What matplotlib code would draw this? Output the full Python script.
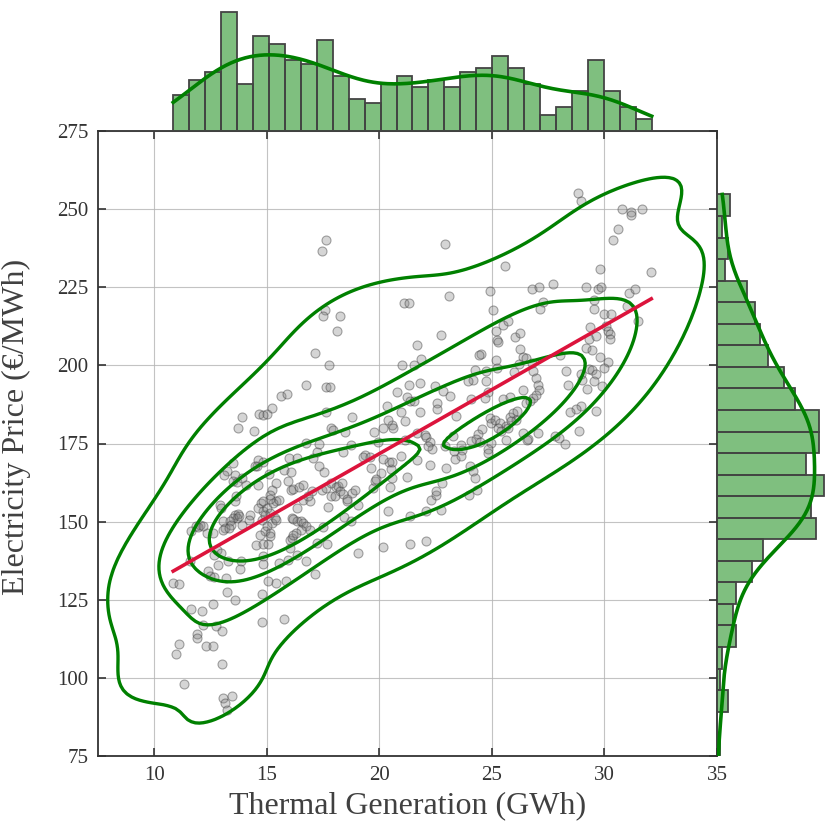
import numpy as np
import matplotlib
matplotlib.use("Agg")
import matplotlib.pyplot as plt
import seaborn as sns

plt.rcParams['font.family'] = ['Liberation Serif', 'DejaVu Serif']

# scatter points (thermal generation GWh, price EUR/MWh)
gen = [
    10.84, 11.11, 11.11, 10.96, 11.33, 11.63, 12.10, 12.62, 12.15, 12.74, 13.02, 11.91, 11.92, 12.29, 12.62,
    13.02, 13.06, 13.44, 13.14, 13.21, 13.24, 13.58, 11.58, 12.77, 12.66, 12.96, 12.84, 12.40, 12.65, 12.47,
    13.18, 13.29, 13.84, 13.80, 14.81, 15.54, 14.81, 15.06, 15.39, 15.85, 14.77, 14.79, 15.77, 16.76, 17.16,
    16.32, 16.02, 16.02, 16.10, 14.54, 14.84, 15.06, 17.24, 17.68, 17.50, 15.95,
    11.62, 11.85, 12.03, 12.33, 11.95, 12.17, 12.62, 12.92, 12.96, 13.58, 13.63, 13.06, 13.14, 13.06, 13.58,
    13.73, 13.66, 13.51, 13.36, 13.43, 13.33, 13.77, 14.25, 14.22, 13.88, 14.72, 14.84, 14.84, 14.77, 14.62,
    14.99, 14.91, 15.13, 15.21, 14.99, 14.91, 15.13, 14.69, 15.13, 15.36, 15.43, 15.21, 15.13, 15.43, 15.28,
    15.13, 15.54, 16.10, 16.32, 16.54, 16.61, 16.76, 16.91, 16.50, 16.17, 16.28, 16.17, 16.32, 16.61, 16.94,
    16.84, 16.08, 16.17, 16.44, 16.61,
    13.51, 14.57, 13.21, 13.09, 14.62, 13.58, 13.51, 13.66, 13.88, 14.06, 14.62, 15.43, 15.10, 15.77, 16.07,
    15.92, 14.47, 14.84, 15.98, 16.32, 17.06, 17.32, 17.53, 17.01, 17.43, 17.65, 17.83, 18.06, 18.17, 18.27,
    18.36, 17.87, 18.05, 18.54, 18.79, 18.91, 19.05, 19.80, 19.72, 20.09, 20.51, 20.54, 20.42, 18.39, 18.57,
    17.72, 18.43, 18.76, 20.39, 19.05, 20.16,
    13.70, 13.88, 14.44, 14.66, 14.84, 14.99, 15.21, 15.65, 15.88, 16.72, 17.61, 17.81, 17.12, 17.75, 17.65,
    18.77, 17.86, 17.95, 18.48, 19.76, 20.16, 20.56, 20.61, 20.39, 20.80, 21.23, 20.95, 21.13, 21.16, 19.94,
    18.76, 16.73, 17.32, 17.25, 18.39, 19.38, 19.28, 19.58, 20.98, 20.16, 20.56, 21.23, 17.61, 17.47, 21.10,
    21.32, 17.58, 17.50, 18.23, 18.12, 21.66, 21.02, 21.54, 21.85, 21.30, 21.82, 21.35, 21.54, 20.34, 22.56,
    22.56, 21.79, 21.67, 22.02, 22.09, 22.24, 22.34, 22.16, 21.65, 22.24, 19.65, 19.84, 20.49, 21.38, 22.09,
    22.31, 22.53, 22.53, 21.35, 22.09, 22.73,
    22.76, 25.20, 25.22, 25.27, 25.49, 25.71, 26.01, 26.23, 26.23, 26.38, 24.50, 24.41, 25.17, 25.24, 24.75,
    24.23, 25.97, 26.20, 26.53, 26.78, 26.82, 26.97, 27.05, 27.09, 26.97, 26.82, 28.30, 28.38, 24.16, 23.94,
    24.75, 22.46, 22.83, 23.16, 24.83, 24.69, 24.09, 25.49, 25.79, 26.38, 26.50, 26.70, 23.40, 24.90, 24.97,
    25.12, 25.34, 25.27, 25.64, 25.79, 25.94, 26.12, 26.09, 25.87, 25.72, 25.42, 26.38, 26.60, 27.05, 27.79,
    27.98, 28.23, 24.56, 24.38, 24.28, 24.09, 24.46, 24.97, 24.83, 24.83, 23.27, 23.64, 23.69, 23.35, 23.64,
    22.90, 22.98, 24.01, 24.16, 24.23, 22.80, 24.34, 23.98, 25.64, 26.57, 23.31,
    28.82, 28.97, 30.79, 31.16, 31.19, 31.66, 30.60, 30.39, 29.78, 32.08, 27.71, 29.16, 29.71, 29.86, 31.11,
    31.37, 29.53, 29.53, 31.01, 29.96, 30.30, 29.34, 30.08, 30.15, 30.23, 30.26, 29.31, 29.63, 31.51, 29.19,
    29.46, 28.01, 29.82, 30.15, 29.96, 29.31, 29.46, 29.61, 28.97, 29.01, 29.53, 29.24, 29.89, 28.97, 28.72,
    28.45, 29.63, 28.85, 22.90, 23.09, 25.57, 24.90, 25.05, 26.80, 27.09, 27.27, 27.12,
]
price = [
    130.4, 130.1, 110.9, 107.8, 98.1, 122.2, 121.5, 123.8, 117.0, 116.5, 114.9, 114.2, 112.8, 110.1, 110.1,
    104.6, 93.6, 94.1, 92.0, 89.8, 127.5, 125.0, 137.3, 141.0, 139.4, 140.0, 136.2, 134.1, 132.2, 132.5,
    132.0, 137.5, 137.5, 134.9, 136.5, 136.8, 138.9, 131.1, 130.4, 131.1, 126.9, 117.8, 118.9, 137.5, 133.4,
    139.4, 141.6, 144.2, 144.8, 142.6, 143.0, 142.9, 143.2, 143.0, 148.2, 137.8,
    146.9, 148.7, 149.0, 146.4, 148.2, 148.5, 146.4, 155.4, 154.4, 156.5, 158.1, 150.1, 148.0, 147.4, 152.2,
    152.5, 151.1, 151.1, 150.1, 149.0, 147.9, 151.7, 152.2, 150.6, 149.0, 156.0, 156.5, 153.3, 150.6, 154.4,
    154.4, 152.2, 152.8, 149.6, 148.5, 146.9, 146.4, 145.8, 145.3, 151.2, 150.6, 160.2, 158.6, 156.5, 156.0,
    157.2, 156.8, 151.2, 150.1, 150.1, 149.6, 148.7, 147.4, 147.4, 150.9, 146.4, 145.8, 154.4, 157.0, 156.5,
    158.1, 160.2, 160.5, 161.0, 161.8,
    168.8, 167.9, 166.1, 164.8, 169.8, 165.0, 162.9, 162.6, 164.0, 161.6, 161.8, 162.4, 165.2, 166.6, 165.9,
    162.9, 167.7, 169.0, 170.4, 170.5, 170.4, 167.9, 165.9, 159.9, 160.2, 160.8, 162.4, 161.0, 161.5, 159.7,
    162.4, 158.3, 158.1, 156.5, 159.2, 160.2, 155.4, 162.9, 160.8, 165.6, 167.0, 164.0, 169.1, 159.0, 157.1,
    154.7, 151.5, 150.1, 153.3, 140.0, 141.8,
    179.9, 183.4, 179.1, 184.5, 184.2, 184.5, 186.3, 190.1, 191.0, 193.8, 193.0, 193.0, 204.1, 200.2, 185.2,
    183.5, 180.1, 179.2, 178.8, 178.8, 179.9, 180.8, 180.0, 182.6, 191.5, 190.0, 185.2, 182.3, 176.2, 175.5,
    174.6, 175.1, 175.0, 172.3, 172.2, 171.2, 170.6, 170.7, 170.9, 170.2, 169.1, 164.2, 240.0, 236.5, 220.1,
    220.1, 217.6, 215.7, 215.9, 211.0, 206.6, 200.2, 200.2, 202.1, 193.8, 194.4, 188.5, 188.5, 186.9, 188.0,
    185.9, 185.1, 178.4, 177.8, 177.0, 175.4, 173.1, 174.3, 169.6, 168.2, 167.2, 163.7, 161.1, 151.7, 153.3,
    157.0, 158.6, 159.7, 143.0, 143.9, 153.8,
    209.8, 210.9, 208.0, 207.4, 213.0, 214.1, 209.1, 210.4, 205.4, 202.7, 203.7, 203.2, 201.8, 199.2, 198.1,
    198.6, 197.9, 200.6, 202.4, 200.8, 198.1, 196.0, 193.8, 192.0, 190.6, 189.6, 198.1, 193.8, 195.4, 194.9,
    194.9, 193.3, 191.7, 190.3, 191.4, 189.6, 189.3, 189.1, 189.9, 192.2, 188.0, 188.5, 183.7, 183.2, 181.6,
    182.4, 181.6, 180.0, 180.5, 183.5, 184.8, 185.3, 182.6, 182.1, 180.0, 178.9, 178.4, 176.5, 178.4, 177.5,
    176.8, 175.0, 179.7, 177.9, 176.3, 175.7, 175.4, 175.2, 173.1, 172.0, 177.3, 174.6, 173.0, 170.1, 171.1,
    174.3, 167.2, 167.7, 166.1, 164.0, 162.4, 160.2, 158.6, 176.2, 176.2, 172.5,
    255.2, 252.5, 250.1, 249.0, 248.0, 250.1, 243.8, 240.2, 230.9, 230.0, 226.0, 225.1, 224.6, 225.1, 223.2,
    224.6, 220.8, 218.1, 219.1, 216.5, 216.3, 212.2, 212.7, 210.9, 210.2, 208.5, 208.5, 209.5, 214.1, 205.6,
    205.0, 203.4, 202.6, 201.0, 199.2, 198.9, 198.4, 197.3, 197.3, 195.4, 194.9, 192.5, 193.3, 186.9, 186.2,
    185.1, 185.3, 179.1, 238.9, 222.3, 231.7, 223.7, 217.6, 224.5, 225.0, 220.2, 218.1,
]

# marginal histograms
gen_bin_lo, gen_bin_hi = 10.84, 32.10
gen_counts = [9, 13, 15, 30, 12, 24, 22, 18, 17, 23, 14, 8, 7, 12, 14,
              11, 13, 11, 15, 16, 19, 16, 12, 4, 6, 10, 18, 10, 6, 3]
price_bin_lo, price_bin_hi = 47.8, 254.7
price_counts = [0, 1, 0, 0, 1, 0, 4, 1, 2, 7, 6, 7, 13, 17, 37,
                35, 40, 33, 38, 38, 29, 25, 19, 16, 14, 11, 3, 4, 2, 5]

GREEN = '#008000'
DARK = '#333333'


def kde_counts(centers, counts, grid, width):
    # gaussian kde (scott) of the binned data, scaled to histogram counts
    data = np.repeat(centers, counts)
    n = len(data)
    bw = data.std(ddof=1) * n ** (-1 / 5)
    z = (grid[:, None] - data[None, :]) / bw
    dens = np.exp(-0.5 * z ** 2).sum(axis=1) / (n * bw * np.sqrt(2 * np.pi))
    return dens * n * width


gen = np.array(gen)
price = np.array(price)

fig = plt.figure(figsize=(8.25, 8.27), dpi=100)
ax = fig.add_axes([98 / 825, 71 / 827, 619 / 825, 625 / 827])
ax_top = fig.add_axes([98 / 825, 696 / 827, 619 / 825, 131 / 827])
ax_right = fig.add_axes([717 / 825, 71 / 827, 108 / 825, 625 / 827])

# main panel
ax.grid(True, color='#b5b5b5', linewidth=0.8, alpha=0.8)
ax.set_axisbelow(True)
ax.scatter(gen, price, s=42, facecolor=(0.5, 0.5, 0.5, 0.33),
           edgecolor=(0.25, 0.25, 0.25, 0.45), linewidth=0.8, zorder=2)
sns.kdeplot(x=gen, y=price, ax=ax, levels=5, bw_adjust=1.1, color=GREEN,
            linewidths=2.4, zorder=3)

slope, icpt = np.polyfit(gen, price, 1)
xr = np.array([gen.min(), gen.max()])
ax.plot(xr, slope * xr + icpt, color='#dc143c', linewidth=2.6, zorder=4)

ax.set_xlim(7.5, 35)
ax.set_ylim(75, 275)
ax.set_xticks(np.arange(10, 36, 5))
ax.set_yticks(np.arange(75, 276, 25))
ax.tick_params(direction='in', top=True, right=True, length=6, width=1.2,
               color=DARK, labelcolor=DARK, labelsize=15, pad=7)
for sp in ax.spines.values():
    sp.set_color(DARK)
    sp.set_linewidth(1.3)
ax.set_xlabel('Thermal Generation (GWh)', fontsize=23, color='#404040', labelpad=5)
ax.set_ylabel('Electricity Price (€/MWh)', fontsize=23, color='#404040')
ax.yaxis.set_label_coords(-0.109, 0.527)

# top marginal
x_edges = np.linspace(gen_bin_lo, gen_bin_hi, len(gen_counts) + 1)
x_w = x_edges[1] - x_edges[0]
ax_top.bar(x_edges[:-1], gen_counts, width=x_w, align='edge',
           color=(0, 0.5, 0, 0.5), edgecolor='#444444', linewidth=1.3)
gx = np.linspace(gen_bin_lo, gen_bin_hi, 300)
ax_top.plot(gx, kde_counts(x_edges[:-1] + x_w / 2, gen_counts, gx, x_w),
            color=GREEN, linewidth=2.6)
ax_top.set_xlim(7.5, 35)
ax_top.set_ylim(0, 33.1)
ax_top.axis('off')

# right marginal
y_edges = np.linspace(price_bin_lo, price_bin_hi, len(price_counts) + 1)
y_w = y_edges[1] - y_edges[0]
ax_right.barh(y_edges[:-1], price_counts, height=y_w, align='edge',
              color=(0, 0.5, 0, 0.5), edgecolor='#444444', linewidth=1.3)
gy = np.linspace(price_bin_lo, price_bin_hi, 300)
ax_right.plot(kde_counts(y_edges[:-1] + y_w / 2, price_counts, gy, y_w), gy,
              color=GREEN, linewidth=2.6)
ax_right.set_ylim(75, 275)
ax_right.set_xlim(0, 40.2)
ax_right.axis('off')

fig.savefig('out.png', dpi=100)
